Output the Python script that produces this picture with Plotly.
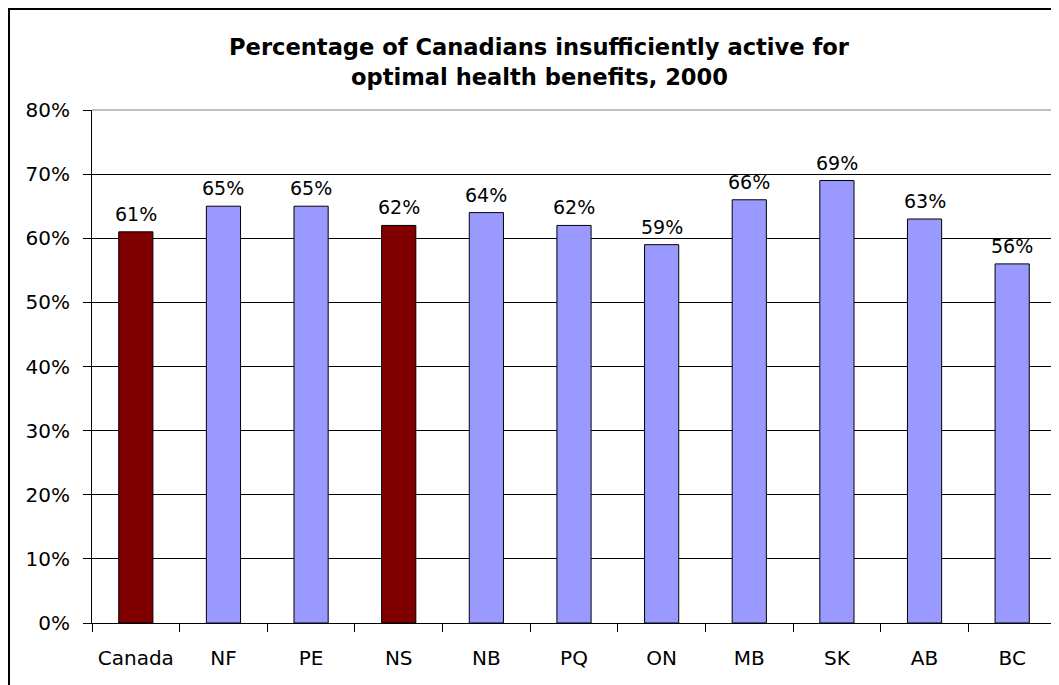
import plotly.graph_objects as go

categories = ["Canada", "NF", "PE", "NS", "NB", "PQ", "ON", "MB", "SK", "AB", "BC"]
values = [61, 65, 65, 62, 64, 62, 59, 66, 69, 63, 56]
highlight = ["Canada", "NS"]
y_ticks = [0, 10, 20, 30, 40, 50, 60, 70, 80]
title_lines = ["Percentage of Canadians insufficiently active for",
               "optimal health benefits, 2000"]

OFF = 8  # page body margin offset
W, H = 1059 - OFF, 685 - OFF
L, R, T, B = 92 - OFF, 1056 - OFF, 110 - OFF, 623 - OFF  # plot area in figure pixels


def px_x(p):
    return (p - L) / (R - L)


def px_y(p):
    return (B - p) / (B - T)


colors = ["#800000" if c in highlight else "#9999FF" for c in categories]

fig = go.Figure()
fig.add_trace(go.Bar(
    x=categories,
    y=values,
    marker=dict(color=colors, line=dict(color="black", width=1)),
    hoverinfo="skip",
))

for c, v in zip(categories, values):
    fig.add_annotation(
        x=c, y=v, xref="x", yref="y",
        text=f"{v}%", showarrow=False,
        xanchor="center", yanchor="bottom", yshift=5,
        font=dict(family="DejaVu Sans", size=19, color="black"),
    )

fig.update_layout(
    width=W, height=H, autosize=False,
    margin=dict(l=L, r=W - R, t=T, b=H - B, pad=0),
    paper_bgcolor="white", plot_bgcolor="white",
    bargap=0.61,
    showlegend=False,
    font=dict(family="DejaVu Sans", size=20, color="black"),
)

fig.update_xaxes(
    type="category",
    tickson="boundaries",
    ticks="outside", ticklen=8, tickcolor="black", tickwidth=1,
    showline=True, linecolor="black", linewidth=1,
    showgrid=False,
    tickfont=dict(family="DejaVu Sans", size=20, color="black"),
    ticklabelstandoff=17,
)
fig.update_yaxes(
    range=[0, 80],
    tickvals=y_ticks,
    ticktext=[f"{v}%" for v in y_ticks],
    ticks="outside", ticklen=8, tickcolor="black", tickwidth=1,
    showline=True, linecolor="black", linewidth=1,
    showgrid=True, gridcolor="black", gridwidth=1,
    zeroline=False,
    tickfont=dict(family="DejaVu Sans", size=20, color="black"),
    ticklabelstandoff=9,
)

# gray plot-area border on top and right
fig.add_shape(type="line", xref="paper", yref="paper", x0=0, x1=1, y0=1, y1=1,
              line=dict(color="#808080", width=1), layer="above")
fig.add_shape(type="line", xref="paper", yref="paper", x0=1, x1=1, y0=0, y1=1,
              line=dict(color="#808080", width=1), layer="above")

# outer chart frame
fig.add_shape(type="rect", xref="paper", yref="paper",
              x0=px_x(1), x1=px_x(W + 10), y0=px_y(H + 10), y1=px_y(1),
              line=dict(color="black", width=2), layer="above")

title_cx = px_x(539.5 - OFF)
for line, cy in zip(title_lines, [47 - OFF, 77 - OFF]):
    fig.add_annotation(
        text=f"<b>{line}</b>", xref="paper", yref="paper",
        x=title_cx, y=px_y(cy), xanchor="center", yanchor="middle",
        showarrow=False,
        font=dict(family="DejaVu Sans", size=22.6, color="black"),
    )

fig.write_html("out.html")
